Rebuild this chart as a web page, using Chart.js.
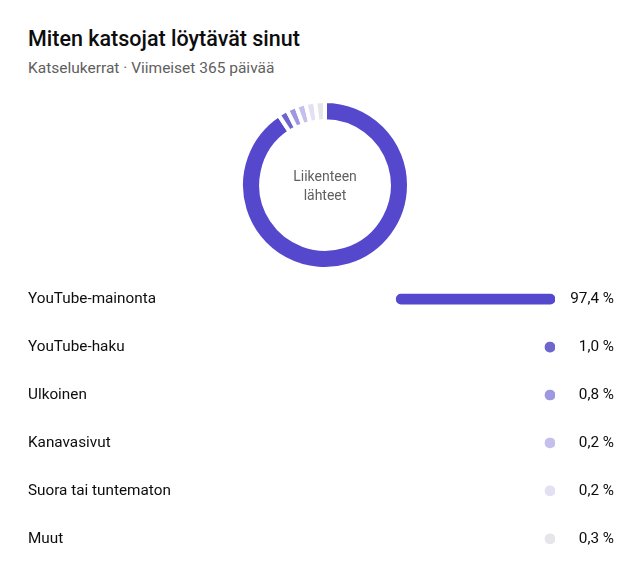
<!DOCTYPE html>
<html lang="fi">
<head>
<meta charset="utf-8">
<script src="https://cdn.jsdelivr.net/npm/chart.js@4/dist/chart.umd.min.js"></script>
<style>
    html, body { margin: 0; padding: 0; background: #fff; }
    body { width: 625px; height: 569px; position: relative; overflow: hidden; font-family: Roboto, "Noto Sans", sans-serif; }
    .title { position: absolute; left: 28px; top: 26px; font-size: 21.5px; font-weight: 500; color: #0d0d0d; margin: 0; }
    .subtitle { position: absolute; left: 28px; top: 59px; font-size: 15.5px; color: #606060; }
    .donut-wrap { position: absolute; left: 239px; top: 99px; width: 172px; height: 172px; }
    .donut-label { position: absolute; left: 243px; top: 167px; width: 164px; text-align: center; font-size: 14px; line-height: 19px; color: #606060; }
    .rows-wrap { position: absolute; left: 0; top: 266px; width: 625px; height: 306px; }
</style>
</head>
<body>
<h2 class="title">Miten katsojat löytävät sinut</h2>
<div class="subtitle">Katselukerrat · Viimeiset 365 päivää</div>
<div class="donut-wrap"><canvas id="donutChart"></canvas></div>
<div class="donut-label">Liikenteen<br>lähteet</div>
<div class="rows-wrap"><canvas id="rowsChart"></canvas></div>

<script>
// --- Data ---
const sources = ["YouTube-mainonta", "YouTube-haku", "Ulkoinen", "Kanavasivut", "Suora tai tuntematon", "Muut"];
const shares = [97.4, 1.0, 0.8, 0.2, 0.2, 0.3];
const sourceColors = ["#5548cc", "#6e66cc", "#9e98e0", "#c4c0ec", "#e2e0f2", "#e6e6ea"];

// small sources get a minimum visible slice in the ring (like the original)
const MIN_SLICE = 2.0;
const shareLabels = shares.map(v => v.toFixed(1).replace('.', ',') + ' %');

// --- Donut ---
new Chart(document.getElementById('donutChart'), {
    type: 'doughnut',
    data: {
        labels: sources,
        datasets: [{
            data: shares.map(v => Math.max(v, MIN_SLICE)),
            backgroundColor: sourceColors,
            borderColor: '#ffffff',
            borderWidth: 4,
            borderJoinStyle: 'miter'
        }]
    },
    options: {
        responsive: true,
        maintainAspectRatio: false,
        animation: false,
        cutout: '76%',
        plugins: { legend: { display: false }, tooltip: { enabled: false } }
    }
});

// --- Source rows ---
new Chart(document.getElementById('rowsChart'), {
    type: 'bar',
    data: {
        labels: sources,
        datasets: [{
            data: shares,
            backgroundColor: sourceColors,
            barThickness: 10,
            borderRadius: 5,
            borderSkipped: false,
            minBarLength: 10
        }]
    },
    options: {
        indexAxis: 'y',
        responsive: true,
        maintainAspectRatio: false,
        animation: false,
        layout: { padding: { left: 28, right: 11, top: 0, bottom: 0 } },
        plugins: { legend: { display: false }, tooltip: { enabled: false } },
        scales: {
            x: {
                display: false,
                reverse: true,
                min: 0,
                max: 100
            },
            y: {
                grid: { display: false },
                border: { display: false },
                ticks: {
                    crossAlign: 'far',
                    padding: 0,
                    color: '#0d0d0d',
                    font: { family: 'Roboto', size: 15.3 }
                },
                afterFit: s => { s.width = 364; }
            },
            y2: {
                type: 'category',
                position: 'right',
                labels: shareLabels,
                offset: true,
                grid: { display: false },
                border: { display: false },
                ticks: {
                    crossAlign: 'far',
                    padding: 0,
                    color: '#0d0d0d',
                    font: { family: 'Roboto', size: 15.3 }
                },
                afterFit: s => { s.width = 59; }
            }
        }
    }
});
</script>
</body>
</html>
